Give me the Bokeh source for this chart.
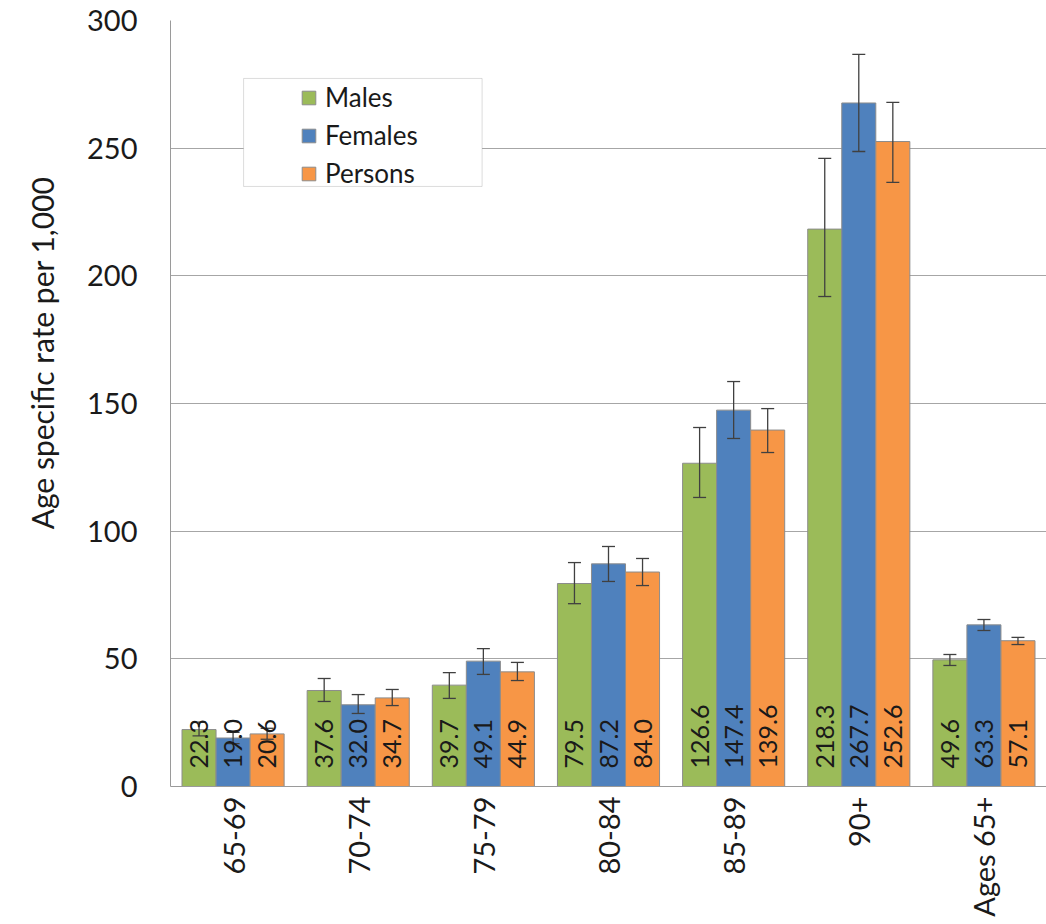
import math
from bokeh.plotting import figure
from bokeh.models import (ColumnDataSource, FactorRange, Whisker, TeeHead, LabelSet, Title,
                          Legend, LegendItem, BoxAnnotation, FixedTicker)
from bokeh.transform import dodge
from bokeh.core.properties import value
from bokeh.embed import file_html
from bokeh.resources import INLINE

# ---- data ----
categories = ["65-69", "70-74", "75-79", "80-84", "85-89", "90+", "Ages 65+"]
males = [22.3, 37.6, 39.7, 79.5, 126.6, 218.3, 49.6]
females = [19.0, 32.0, 49.1, 87.2, 147.4, 267.7, 63.3]
persons = [20.6, 34.7, 44.9, 84.0, 139.6, 252.6, 57.1]
males_lo = [19.8, 33.3, 34.5, 71.6, 113.2, 191.9, 47.4]
males_hi = [25.2, 42.3, 44.6, 87.7, 140.6, 246.0, 51.7]
females_lo = [16.8, 28.6, 43.9, 80.3, 136.3, 248.7, 61.1]
females_hi = [21.2, 36.0, 54.0, 94.0, 158.6, 286.7, 65.4]
persons_lo = [18.5, 31.7, 41.5, 78.7, 130.8, 236.6, 55.6]
persons_hi = [22.8, 38.0, 48.6, 89.3, 148.0, 267.9, 58.4]
y_ticks = [0, 50, 100, 150, 200, 250, 300]
series_names = ["Males", "Females", "Persons"]
y_title = "Age specific rate per 1,000"

# ---- style ----
colors = ["#9BBB59", "#4F81BD", "#F79646"]
FONT = "Lato"
BW = 0.272

src = ColumnDataSource(dict(
    cat=categories,
    m=males, f=females, p=persons,
    m_lo=males_lo, m_hi=males_hi,
    f_lo=females_lo, f_hi=females_hi,
    p_lo=persons_lo, p_hi=persons_hi,
    m_t=["%.1f" % v for v in males],
    f_t=["%.1f" % v for v in females],
    p_t=["%.1f" % v for v in persons],
    zero=[0] * len(categories),
))

p = figure(x_range=FactorRange(factors=categories, range_padding=0),
           y_range=(0, 300), width=1046, height=920,
           output_backend="svg", toolbar_location=None,
           min_border_left=170, min_border_right=0,
           min_border_top=20, min_border_bottom=134)
p.outline_line_color = None
p.background_fill_color = "white"

offsets = [-BW, 0.0, BW]
keys = ["m", "f", "p"]
renderers = []
for k, off, c in zip(keys, offsets, colors):
    r = p.vbar(x=dodge("cat", off, range=p.x_range), top=k, width=BW, source=src,
               fill_color=c, line_color="#8c8c8c", line_width=1)
    renderers.append(r)

for k, off in zip(keys, offsets):
    w = Whisker(source=src, base=dodge("cat", off, range=p.x_range),
                lower=k + "_lo", upper=k + "_hi", level="annotation",
                line_color="#404040", line_width=1.3,
                upper_head=TeeHead(size=13, line_color="#404040", line_width=1.3),
                lower_head=TeeHead(size=13, line_color="#404040", line_width=1.3))
    p.add_layout(w)

for k, off in zip(keys, offsets):
    lab = LabelSet(x=dodge("cat", off, range=p.x_range), y="zero", text=k + "_t",
                   source=src, angle=math.pi / 2, text_align="left",
                   text_baseline="middle", y_offset=18,
                   text_font=value(FONT), text_font_size="25px", text_color="#1a1a1a")
    p.add_layout(lab)

# axes
p.yaxis.ticker = FixedTicker(ticks=y_ticks)
p.yaxis.minor_tick_line_color = None
p.yaxis.major_tick_line_color = None
p.yaxis.major_tick_out = 0
p.yaxis.major_tick_in = 0
p.yaxis.axis_line_color = "#9a9a9a"
p.yaxis.major_label_text_font = FONT
p.yaxis.major_label_text_font_size = "29px"
p.yaxis.major_label_text_color = "#1a1a1a"
p.yaxis.major_label_standoff = 33

p.xaxis.major_tick_line_color = None
p.xaxis.minor_tick_line_color = None
p.xaxis.major_tick_out = 0
p.xaxis.major_tick_in = 0
p.xaxis.axis_line_color = "#9a9a9a"
p.xaxis.major_label_orientation = math.pi / 2
p.xaxis.major_label_text_font = FONT
p.xaxis.major_label_text_font_size = "29px"
p.xaxis.major_label_text_color = "#1a1a1a"
p.xaxis.major_label_standoff = 10

p.xgrid.grid_line_color = None
p.ygrid.grid_line_color = "#a6a6a6"
p.ygrid.grid_line_width = 1

# y-axis title in a left side panel, shifted up and outward like the reference
ytitle = Title(text=y_title, align="right", offset=156, vertical_align="top",
               standoff=46,
               text_font=FONT, text_font_size="30px", text_font_style="normal",
               text_color="#1a1a1a")
p.add_layout(ytitle, "left")

# legend frame
box = BoxAnnotation(left=0.584, right=2.49, top=277.3, bottom=235.0,
                    fill_color="white", fill_alpha=1.0,
                    line_color="#8c8c8c", line_width=1, level="annotation")
p.add_layout(box)

legend = Legend(items=[LegendItem(label=n, renderers=[r]) for n, r in zip(series_names, renderers)],
                location=(130, 597), padding=3, spacing=6,
                glyph_width=17, glyph_height=17, label_height=28, label_standoff=8,
                label_text_font=FONT, label_text_font_size="26px",
                label_text_color="#1a1a1a",
                border_line_color=None, background_fill_alpha=0)
p.add_layout(legend)

open("out.html", "w").write(file_html(p, INLINE))
